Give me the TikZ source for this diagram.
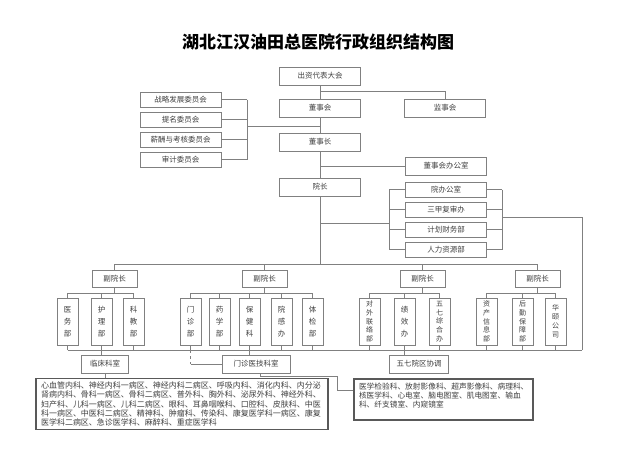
\documentclass[tikz,border=0pt]{standalone}
\usepackage{fontspec}
\setmainfont{Noto Sans CJK SC}
\usetikzlibrary{shadows}
\definecolor{linegray}{HTML}{808080}
\definecolor{textgray}{HTML}{404040}

\begin{document}
\begin{tikzpicture}[x=1pt, y=-1pt, node distance=20pt,
		orgbox/.style={rectangle,draw=linegray,fill=white,text=textgray,inner sep=1pt,
			font=\fontsize{7.5}{9}\selectfont,
			drop shadow={shadow xshift=0.8pt,shadow yshift=-0.8pt,fill=black!75,opacity=1}},
		widebox/.style={orgbox,minimum width=81pt,minimum height=15pt},
		trunkbox/.style={widebox,minimum height=18pt},
		vpbox/.style={orgbox,minimum width=45pt,minimum height=17pt},
		tallbox/.style={orgbox,minimum width=21pt,minimum height=47pt,align=center,
			font=\fontsize{7.5}{12}\selectfont},
		densebox/.style={tallbox,font=\fontsize{7}{8.8}\selectfont},
		listbox/.style={rectangle,draw=black!65,line width=1.2pt,fill=white,text=textgray,
			align=left,inner xsep=5pt},
		link/.style={draw=linegray,line width=0.6pt}
		]
		\fill[white] (0,0) rectangle (640,450);
		\useasboundingbox (0,0) rectangle (640,450);

		\node[font={\fontsize{17}{20}\selectfont\bfseries}](T0) at (318,42){湖北江汉油田总医院行政组织结构图};

		% main line
		\node[trunkbox](S0) at (320,76){出资代表大会};
		\node[trunkbox, below of = S0, yshift = -12pt](S1){董事会};
		\node[trunkbox, below of = S1, yshift = -14pt](S2){董事长};
		\node[trunkbox, below of = S2, yshift = -25pt](S3){院长};
		\node[trunkbox](S4) at (445,108){监事会};
		\node[trunkbox](S5) at (446,166){董事会办公室};

		% committees
		\node[widebox](W1) at (180.5,99.5){战略发展委员会};
		\node[widebox, below of = W1](W2){提名委员会};
		\node[widebox, below of = W2](W3){薪酬与考核委员会};
		\node[widebox, below of = W3](W4){审计委员会};

		% offices
		\node[widebox](O1) at (446,189.5){院办公室};
		\node[widebox, below of = O1](O2){三甲复审办};
		\node[widebox, below of = O2](O3){计划财务部};
		\node[widebox, below of = O3](O4){人力资源部};

		% vice presidents
		\node[vpbox](V1) at (114.5,278.5){副院长};
		\node[vpbox](V2) at (264.5,278.5){副院长};
		\node[vpbox](V3) at (422.5,278.5){副院长};
		\node[vpbox](V4) at (537.5,278.5){副院长};

		% departments
		\node[tallbox](D1) at (67.5,321.5){医\\务\\部};
		\node[tallbox](D2) at (101.5,321.5){护\\理\\部};
		\node[tallbox](D3) at (133.5,321.5){科\\教\\部};
		\node[tallbox](D4) at (190.5,321.5){门\\诊\\部};
		\node[tallbox](D5) at (219.5,321.5){药\\学\\部};
		\node[tallbox](D6) at (249.5,321.5){保\\健\\科};
		\node[tallbox](D7) at (281.5,321.5){院\\感\\办};
		\node[tallbox](D8) at (312.5,321.5){体\\检\\部};
		\node[densebox](D9) at (369.5,321.5){对\\外\\联\\络\\部};
		\node[tallbox](D10) at (404.5,321.5){绩\\效\\办};
		\node[densebox](D11) at (439.5,321.5){五\\七\\综\\合\\办};
		\node[densebox](D12) at (486.5,321.5){资\\产\\信\\息\\部};
		\node[densebox](D13) at (522.5,321.5){后\\勤\\保\\障\\部};
		\node[densebox](D14) at (555.5,321.5){华\\颐\\公\\司};

		% clinical groups
		\node[vpbox, minimum width=47pt, minimum height=18pt](K1) at (105,364){临床科室};
		\node[vpbox, minimum width=68pt, minimum height=18pt](K2) at (256,364){门诊医技科室};
		\node[vpbox, minimum width=59pt, minimum height=18pt](K3) at (419,364){五七院区协调};

		\node[listbox, text width=282pt, minimum height=48pt, font=\fontsize{8}{9.3}\selectfont](T1) at (182,404){心血管内科、神经内科一病区、神经内科二病区、呼吸内科、消化内科、内分泌\\肾病内科、骨科一病区、骨科二病区、普外科、胸外科、泌尿外科、神经外科、\\妇产科、儿科一病区、儿科二病区、眼科、耳鼻咽喉科、口腔科、皮肤科、中医\\科一病区、中医科二病区、精神科、肿瘤科、传染科、康复医学科一病区、康复\\医学科二病区、急诊医学科、麻醉科、重症医学科};
		\node[listbox, inner ysep=4pt, font=\fontsize{7.7}{9}\selectfont](T2) at (443.5,399.5){\parbox[c][33pt][t]{169pt}{\raggedright 医学检验科、放射影像科、超声影像科、病理科、\\核医学科、心电室、脑电图室、肌电图室、输血\\科、纤支镜室、内窥镜室}};

		% junctions
		\coordinate (A) at (320,91);
		\coordinate (B) at (247,126);
		\coordinate (L) at (389,223);
		\coordinate (R) at (502,217);
		\coordinate (H) at (320,264);
		\coordinate (G) at (0,293);
		\coordinate (E) at (582,350);
		\coordinate (J) at (337,376);

		\draw[link] (S0) -- (S1);
		\draw[link] (A) -| (S4.north);
		\draw[link] (S1) -- (S2);
		\draw[link] (S2) -- (S3);
		\draw[link] (S2.south |- S5.west) -- (S5.west);

		\draw[link] (W1.east) -- (W1.east -| B);
		\draw[link] (W2.east) -- (W2.east -| B);
		\draw[link] (W3.east) -- (W3.east -| B);
		\draw[link] (W4.east) -- (W4.east -| B);
		\draw[link] (W1.east -| B) -- (W4.east -| B);
		\draw[link] (B) -- (B -| S1.south);

		\draw[link] (S3.south |- L) -- (L);
		\draw[link] (L |- O1.west) -- (L |- O4.west);
		\draw[link] (O1.west) -- (O1.west -| L);
		\draw[link] (O2.west) -- (O2.west -| L);
		\draw[link] (O3.west) -- (O3.west -| L);
		\draw[link] (O4.west) -- (O4.west -| L);
		\draw[link] (O1.east) -- (O1.east -| R);
		\draw[link] (O2.east) -- (O2.east -| R);
		\draw[link] (O3.east) -- (O3.east -| R);
		\draw[link] (O4.east) -- (O4.east -| R);
		\draw[link] (R |- O1.east) -- (R |- O4.east);
		\draw[link] (R) -| (E);

		\draw[link] (S3) -- (H);
		\draw[link] (V1.north |- H) -- (V4.north |- H);
		\draw[link] (V1.north |- H) -- (V1.north);
		\draw[link] (V2.north |- H) -- (V2.north);
		\draw[link] (V3.north |- H) -- (V3.north);
		\draw[link] (V4.north |- H) -- (V4.north);

		\draw[link] (V1) -- (V1.south |- G);
		\draw[link] (V2) -- (V2.south |- G);
		\draw[link] (V3) -- (V3.south |- G);
		\draw[link] (V4) -- (V4.south |- G);
		\draw[link] (D1.north |- G) -- (D3.north |- G);
		\draw[link] (D4.north |- G) -- (D8.north |- G);
		\draw[link] (D9.north |- G) -- (D11.north |- G);
		\draw[link] (D12.north |- G) -- (D14.north |- G);
		\draw[link] (D1.north |- G) -- (D1); \draw[link] (D2.north |- G) -- (D2);
		\draw[link] (D3.north |- G) -- (D3); \draw[link] (D4.north |- G) -- (D4);
		\draw[link] (D5.north |- G) -- (D5); \draw[link] (D6.north |- G) -- (D6);
		\draw[link] (D7.north |- G) -- (D7); \draw[link] (D8.north |- G) -- (D8);
		\draw[link] (D9.north |- G) -- (D9); \draw[link] (D10.north |- G) -- (D10);
		\draw[link] (D11.north |- G) -- (D11); \draw[link] (D12.north |- G) -- (D12);
		\draw[link] (D13.north |- G) -- (D13); \draw[link] (D14.north |- G) -- (D14);

		\draw[link] (D1.south |- E) -- (E);
		\draw[link] (D1) -- (D1.south |- E); \draw[link] (D2) -- (D2.south |- E);
		\draw[link] (D3) -- (D3.south |- E); \draw[link] (D4) -- (D4.south |- E);
		\draw[link] (D5) -- (D5.south |- E); \draw[link] (D6) -- (D6.south |- E);
		\draw[link] (D7) -- (D7.south |- E); \draw[link] (D8) -- (D8.south |- E);
		\draw[link] (D9) -- (D9.south |- E); \draw[link] (D10) -- (D10.south |- E);
		\draw[link] (D11) -- (D11.south |- E); \draw[link] (D12) -- (D12.south |- E);
		\draw[link] (D13) -- (D13.south |- E); \draw[link] (D14) -- (D14.south |- E);

		\draw[link] (D2.south |- E) -- (D2.south |- K1.north);
		\draw[link] (K1) -- (K1.south |- T1.north);
		\draw[link] (D6.south |- E) -- (D6.south |- K2.north);
		\draw[link, dashed] (D4.south |- E) -- (D4.south |- K2.west);
		\draw[link] (D4.south |- K2.west) -- (K2.west);
		\draw[link] ([xshift=4pt]K2.south) |- (J) |- ([yshift=-12pt]T2.north west);
		\draw[link] (D10.south |- E) -- (D10.south |- K3.north);
	\end{tikzpicture}
\end{document}
